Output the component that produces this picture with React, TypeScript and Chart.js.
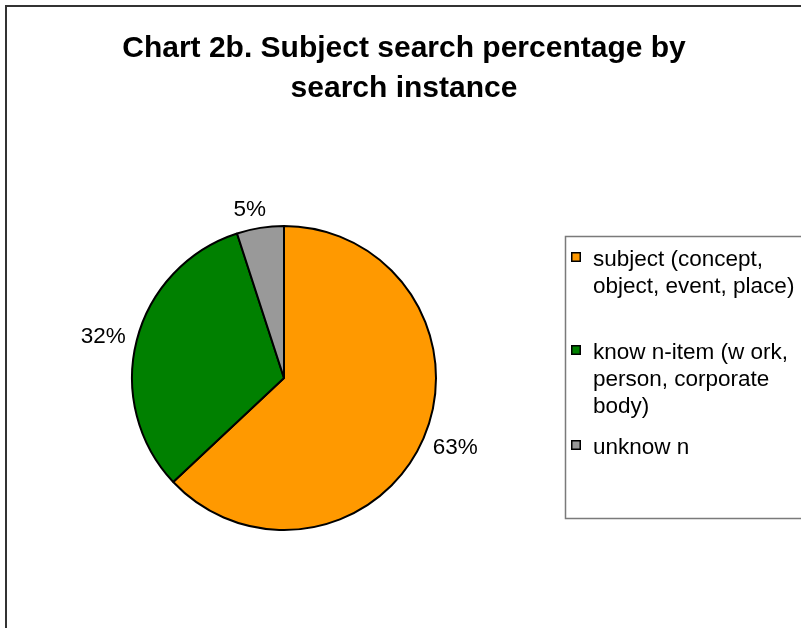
import React, { useEffect, useRef } from 'react';
import { Chart, registerables } from 'chart.js';

Chart.register(...registerables);

const titleLines = ['Chart 2b. Subject search percentage by', 'search instance'];
const categories = [
  'subject (concept, object, event, place)',
  'know n-item (w ork, person, corporate body)',
  'unknow n',
];
const legendLines = [
  ['subject (concept,', 'object, event, place)'],
  ['know n-item (w ork,', 'person, corporate', 'body)'],
  ['unknow n'],
];
const values = [63, 32, 5];
const valueLabels = ['63%', '32%', '5%'];
const colors = ['#FF9900', '#008000', '#999999'];

const FONT = '"Liberation Sans", Arial, Helvetica, sans-serif';

const decorPlugin = {
  id: 'decor',
  beforeDraw(chart: any) {
    const ctx = chart.ctx as CanvasRenderingContext2D;
    ctx.save();
    ctx.fillStyle = '#ffffff';
    ctx.fillRect(0, 0, chart.width, chart.height);
    // outer chart border
    ctx.strokeStyle = '#333333';
    ctx.lineWidth = 2;
    ctx.strokeRect(6, 6, 1000, 1000);
    // title
    ctx.fillStyle = '#000000';
    ctx.font = `bold 30px ${FONT}`;
    ctx.textAlign = 'center';
    ctx.textBaseline = 'alphabetic';
    titleLines.forEach((t, i) => ctx.fillText(t, 404, 57 + i * 40));
    // legend box
    ctx.strokeStyle = '#7a7a7a';
    ctx.lineWidth = 1.5;
    ctx.strokeRect(565.5, 236.5, 400, 282);
    // legend entries
    const firstBaselines = [266, 359, 454];
    ctx.font = `22.5px ${FONT}`;
    ctx.textAlign = 'left';
    const bg = chart.data.datasets[0].backgroundColor as string[];
    legendLines.forEach((lines, i) => {
      const b = firstBaselines[i];
      ctx.fillStyle = bg[i];
      ctx.fillRect(571, b - 14, 10, 10);
      ctx.strokeStyle = '#000000';
      ctx.lineWidth = 1.5;
      ctx.strokeRect(571.75, b - 13.25, 8.5, 8.5);
      ctx.fillStyle = '#000000';
      lines.forEach((l, j) => ctx.fillText(l, 593, b + j * 27));
    });
    ctx.restore();
  },
  afterDatasetsDraw(chart: any) {
    const ctx = chart.ctx as CanvasRenderingContext2D;
    const meta = chart.getDatasetMeta(0);
    ctx.save();
    ctx.font = `22.5px ${FONT}`;
    ctx.fillStyle = '#000000';
    ctx.textAlign = 'center';
    ctx.textBaseline = 'alphabetic';
    meta.data.forEach((arc: any, i: number) => {
      const { x, y, startAngle, endAngle, outerRadius } = arc.getProps(
        ['x', 'y', 'startAngle', 'endAngle', 'outerRadius'],
        true
      );
      const mid = (startAngle + endAngle) / 2;
      const c = Math.cos(mid);
      const s = Math.sin(mid);
      const r = outerRadius + 12;
      const text = valueLabels[i];
      const w = ctx.measureText(text).width;
      const h = 16;
      const cx = x + c * r + (c * w) / 2;
      const cy = y + s * r + (s * h) / 2;
      ctx.fillText(text, cx - (i === 2 ? 6 : 0), cy + 8);
    });
    ctx.restore();
  },
};

export default function App() {
  const ref = useRef<HTMLCanvasElement | null>(null);
  useEffect(() => {
    if (!ref.current) return;
    const chart = new Chart(ref.current, {
      type: 'pie',
      data: {
        labels: categories,
        datasets: [
          {
            data: values,
            backgroundColor: colors,
            borderColor: '#000000',
            borderWidth: 2,
          },
        ],
      },
      options: {
        responsive: false,
        animation: false,
        devicePixelRatio: 1,
        layout: { padding: { left: 131, right: 364, top: 225, bottom: 97 } },
        plugins: {
          legend: { display: false },
          title: { display: false },
          tooltip: { enabled: false },
        },
      },
      plugins: [decorPlugin],
    });
    return () => chart.destroy();
  }, []);
  return (
    <div style={{ position: 'absolute', left: 0, top: 0, width: 801, height: 628, overflow: 'hidden' }}>
      <canvas ref={ref} width={801} height={628} style={{ display: 'block' }} />
    </div>
  );
}
